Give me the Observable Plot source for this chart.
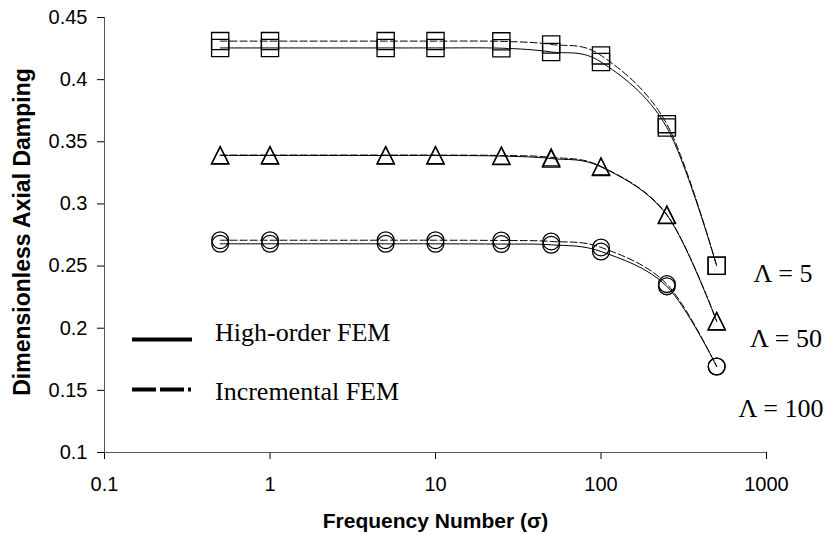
<!DOCTYPE html>
<html>
<head>
<meta charset="utf-8">
<script src="https://cdn.jsdelivr.net/npm/d3@7"></script>
<script src="https://cdn.jsdelivr.net/npm/@observablehq/plot@0.6"></script>
<style>
  html, body { margin: 0; padding: 0; background: #fff; }
  #chart { width: 826px; height: 535px; }
</style>
</head>
<body>
<div id="chart"></div>
<script>
// ---- data ----
const freq = [0.5, 1, 5, 10, 25, 50, 100, 250, 500];
const lambdas = [5, 50, 100];
const highOrder5   = [0.4255, 0.4255, 0.4255, 0.4255, 0.4253, 0.4223, 0.4142, 0.3615, 0.2502];
const incremental5 = [0.4310, 0.4310, 0.4310, 0.4310, 0.4308, 0.4283, 0.4195, 0.3642, 0.2502];
const highOrder50   = [0.3390, 0.3390, 0.3390, 0.3390, 0.3385, 0.3365, 0.3298, 0.2910, 0.2055];
const incremental50 = [0.3393, 0.3393, 0.3393, 0.3393, 0.3390, 0.3375, 0.3302, 0.2915, 0.2058];
const highOrder100   = [0.2679, 0.2679, 0.2679, 0.2679, 0.2677, 0.2671, 0.2617, 0.2337, 0.1692];
const incremental100 = [0.2708, 0.2708, 0.2708, 0.2708, 0.2706, 0.2698, 0.2650, 0.2355, 0.1692];
const xTicks = [0.1, 1, 10, 100, 1000];
const yTicks = [0.1, 0.15, 0.2, 0.25, 0.3, 0.35, 0.4, 0.45];
const methods = ["High-order FEM", "Incremental FEM"];
const xTitle = "Frequency Number (σ)";
const yTitle = "Dimensionless Axial Damping";
const lambdaLabels = ["Λ = 5", "Λ = 50", "Λ = 100"];

// ---- build table ----
const seriesTable = [
  [5, methods[0], highOrder5], [5, methods[1], incremental5],
  [50, methods[0], highOrder50], [50, methods[1], incremental50],
  [100, methods[0], highOrder100], [100, methods[1], incremental100]
];
const rows = [];
for (const [lambda, method, vals] of seriesTable) {
  vals.forEach((v, i) => rows.push({lambda, method, x: freq[i], y: v, key: method + lambda}));
}

// custom symbols (Excel-like square / triangle, bbox centred)
const squareSym = {draw(ctx, size) { const s = Math.sqrt(size / Math.PI); ctx.rect(-s, -s, 2 * s, 2 * s); }};
const triSym = {draw(ctx, size) { const s = Math.sqrt(size / Math.PI); ctx.moveTo(0, -s); ctx.lineTo(s, s); ctx.lineTo(-s, s); ctx.closePath(); }};
const symbolFor = {5: squareSym, 50: triSym, 100: "circle"};
const rFor = {5: 8.6, 50: 8.6, 100: 8.4};

const serif = "'Liberation Serif', 'Times New Roman', serif";
const sans = "'Liberation Sans', Arial, sans-serif";

const chart = Plot.plot({
  width: 826,
  height: 535,
  marginLeft: 104,
  marginRight: 60,
  marginTop: 17,
  marginBottom: 83,
  style: {fontFamily: sans, fontSize: "20px", color: "#000", background: "#fff"},
  x: {type: "log", domain: [0.1, 1000], ticks: xTicks, tickFormat: d => String(d), tickSize: 7, tickPadding: 17, label: null},
  y: {domain: [0.1, 0.45], ticks: yTicks, tickFormat: d => String(+d.toFixed(2)), tickSize: 7, tickPadding: 10, label: null},
  marks: [
    Plot.ruleX([0.1], {stroke: "#555", strokeWidth: 1}),
    Plot.ruleY([0.1], {stroke: "#555", strokeWidth: 1}),
    Plot.line(rows.filter(d => d.method === methods[1]), {x: "x", y: "y", z: "key", curve: "cardinal", stroke: "#000", strokeWidth: 1, strokeDasharray: "7,3"}),
    Plot.line(rows.filter(d => d.method === methods[0]), {x: "x", y: "y", z: "key", curve: "cardinal", stroke: "#000", strokeWidth: 1}),
    ...lambdas.map(l => Plot.dot(rows.filter(d => d.lambda === l), {x: "x", y: "y", symbol: symbolFor[l], r: rFor[l], fill: "none", stroke: "#000", strokeWidth: 1.3})),
    Plot.text([yTitle], {frameAnchor: "left", dx: -82, dy: -3, rotate: -90, text: d => d, fontWeight: "bold", fontSize: 23, fontFamily: sans, textAnchor: "middle", lineAnchor: "middle"}),
    Plot.text([xTitle], {frameAnchor: "bottom", dy: 69, text: d => d, fontWeight: "bold", fontSize: 21, fontFamily: sans, textAnchor: "middle", lineAnchor: "middle"})
  ]
});
document.getElementById("chart").appendChild(chart);

// ---- legend and Λ annotations (decoration) ----
const svg = d3.select(chart.tagName.toLowerCase() === "svg" ? chart : chart.querySelector("svg"));
const g = svg.append("g").attr("text-anchor", "start");
g.append("line").attr("x1", 132).attr("x2", 192).attr("y1", 339.5).attr("y2", 339.5)
  .attr("stroke", "#000").attr("stroke-width", 4);
g.append("line").attr("x1", 132).attr("x2", 191).attr("y1", 389.5).attr("y2", 389.5)
  .attr("stroke", "#000").attr("stroke-width", 4).attr("stroke-dasharray", "24,4");
g.append("text").attr("x", 215).attr("y", 341).attr("text-anchor", "start").text(methods[0])
  .attr("font-family", serif).attr("font-size", 26).attr("fill", "#000");
g.append("text").attr("x", 215).attr("y", 400).attr("text-anchor", "start").text(methods[1])
  .attr("font-family", serif).attr("font-size", 26).attr("fill", "#000");
const lamPos = [[783, 282], [786, 347], [781, 417]];
lambdaLabels.forEach((t, i) => {
  g.append("text").attr("x", lamPos[i][0]).attr("y", lamPos[i][1]).attr("text-anchor", "middle").text(t)
    .attr("font-family", serif).attr("font-size", 26).attr("fill", "#000");
});
</script>
</body>
</html>
